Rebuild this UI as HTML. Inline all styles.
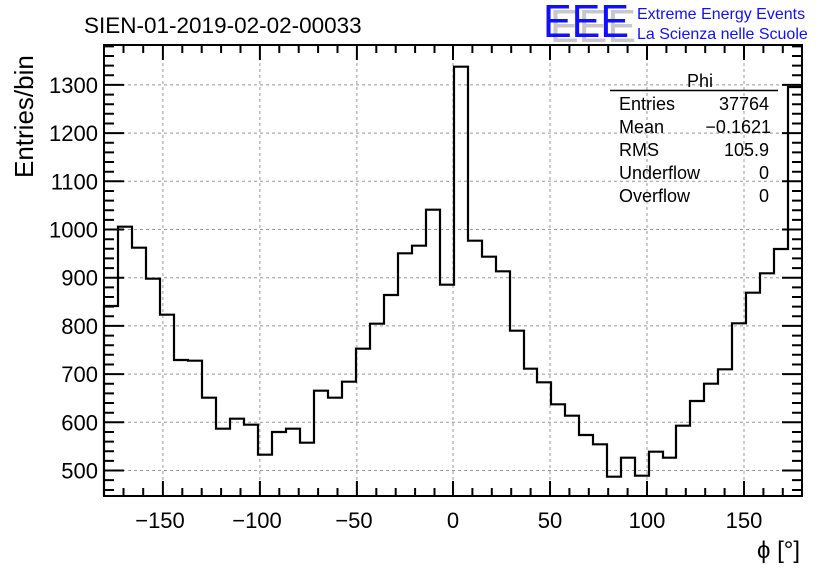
<!DOCTYPE html>
<html><head><meta charset="utf-8"><style>
html,body{margin:0;padding:0;background:#fff;}
svg{display:block;font-family:"Liberation Sans",sans-serif;}
</style></head><body>
<svg width="836" height="572" viewBox="0 0 836 572" xmlns="http://www.w3.org/2000/svg">
<rect width="836" height="572" fill="#fff"/>
<g id="grid" stroke="#999" stroke-width="1" stroke-dasharray="3,3" fill="none">
<path d="M104 470.5H802M104 422.3H802M104 374.1H802M104 325.9H802M104 277.7H802M104 229.5H802M104 181.3H802M104 133.1H802M104 84.9H802"/>
<path d="M162.9 45V496M259.9 45V496M356.9 45V496M453 45V496M550 45V496M647 45V496M744 45V496"/>
</g>
<path id="hist" fill="none" stroke="#000" stroke-width="2.2" d="M104 496V306H118V226.7H132V247.7H146V278.7H160V314.7H174V360H188V360.7H202V397.7H216V428.7H230V418.7H244V424.7H258V454.7H272V432H286V428.7H300V442.7H314V390.7H328V397.7H342V381.7H356V348.7H370V323.7H384V295H398V253.3H412V245.7H426V209.7H440V284.7H454V66.7H468V240.7H482V256.7H496V271.3H510V330.7H524V368.7H537V382.3H551V404.3H565V415.7H579V435H593V444.3H607V476.7H621V457.7H635V475.7H649V451.7H663V457.7H676V425.7H690V401H704V383.7H718V369.3H732V323.3H746V292.7H760V273.3H774V249H788V87H802"/>
<g stroke="#000" stroke-width="2" fill="none">
<rect x="104" y="45" width="698" height="451"/>
<path id="yt" d="
M104 470.5h20M104 422.3h20M104 374.1h20M104 325.9h20M104 277.7h20M104 229.5h20M104 181.3h20M104 133.1h20M104 84.9h20
M802 470.5h-20M802 422.3h-20M802 374.1h-20M802 325.9h-20M802 277.7h-20M802 229.5h-20M802 181.3h-20M802 133.1h-20M802 84.9h-20"/>
<path d="M104 490.0h10M104 480.1h10M104 460.9h10M104 451.2h10M104 441.6h10M104 432.0h10M104 412.7h10M104 403.0h10M104 393.4h10M104 383.8h10M104 364.5h10M104 354.8h10M104 345.2h10M104 335.6h10M104 316.3h10M104 306.6h10M104 297.0h10M104 287.4h10M104 268.1h10M104 258.4h10M104 248.8h10M104 239.2h10M104 219.9h10M104 210.2h10M104 200.6h10M104 191.0h10M104 171.7h10M104 162.0h10M104 152.4h10M104 142.8h10M104 123.5h10M104 113.8h10M104 104.2h10M104 94.6h10M104 75.3h10M104 65.6h10M104 56.0h10M104 46.4h10
M802 490.0h-10M802 480.1h-10M802 460.9h-10M802 451.2h-10M802 441.6h-10M802 432.0h-10M802 412.7h-10M802 403.0h-10M802 393.4h-10M802 383.8h-10M802 364.5h-10M802 354.8h-10M802 345.2h-10M802 335.6h-10M802 316.3h-10M802 306.6h-10M802 297.0h-10M802 287.4h-10M802 268.1h-10M802 258.4h-10M802 248.8h-10M802 239.2h-10M802 219.9h-10M802 210.2h-10M802 200.6h-10M802 191.0h-10M802 171.7h-10M802 162.0h-10M802 152.4h-10M802 142.8h-10M802 123.5h-10M802 113.8h-10M802 104.2h-10M802 94.6h-10M802 75.3h-10M802 65.6h-10M802 56.0h-10M802 46.4h-10"/>
<path d="M162.9 496v-15M259.9 496v-15M356.9 496v-15M453 496v-15M550 496v-15M647 496v-15M744 496v-15
M162.9 45v15M259.9 45v15M356.9 45v15M453 45v15M550 45v15M647 45v15M744 45v15"/>
<path d="M123.5 496v-8M143.2 496v-8M182.3 496v-8M201.7 496v-8M221.1 496v-8M240.5 496v-8M279.3 496v-8M298.7 496v-8M318.1 496v-8M337.5 496v-8M376.3 496v-8M395.7 496v-8M415.1 496v-8M434.5 496v-8M472.4 496v-8M491.8 496v-8M511.2 496v-8M530.6 496v-8M569.4 496v-8M588.8 496v-8M608.2 496v-8M627.6 496v-8M666.4 496v-8M685.8 496v-8M705.2 496v-8M724.6 496v-8M763.4 496v-8M782.8 496v-8
M123.5 45v8M143.2 45v8M182.3 45v8M201.7 45v8M221.1 45v8M240.5 45v8M279.3 45v8M298.7 45v8M318.1 45v8M337.5 45v8M376.3 45v8M395.7 45v8M415.1 45v8M434.5 45v8M472.4 45v8M491.8 45v8M511.2 45v8M530.6 45v8M569.4 45v8M588.8 45v8M608.2 45v8M627.6 45v8M666.4 45v8M685.8 45v8M705.2 45v8M724.6 45v8M763.4 45v8M782.8 45v8"/>
</g>
<g font-size="22" fill="#000" text-anchor="end">
<text x="98" y="478.5">500</text>
<text x="98" y="430.3">600</text>
<text x="98" y="382.1">700</text>
<text x="98" y="333.9">800</text>
<text x="98" y="285.7">900</text>
<text x="98" y="237.5">1000</text>
<text x="98" y="189.3">1100</text>
<text x="98" y="141.1">1200</text>
<text x="98" y="92.9">1300</text>
</g>
<g font-size="22" fill="#000" text-anchor="middle">
<text x="160" y="528">−150</text>
<text x="257" y="528">−100</text>
<text x="354" y="528">−50</text>
<text x="453" y="528">0</text>
<text x="550" y="528">50</text>
<text x="647" y="528">100</text>
<text x="744" y="528">150</text>
</g>
<text x="800" y="558" font-size="24" text-anchor="end">ϕ [°]</text>
<text transform="translate(33,178) rotate(-90)" font-size="26">Entries/bin</text>
<text x="84" y="33" font-size="22.5">SIEN-01-2019-02-02-00033</text>
<g font-size="46" font-weight="normal">
<text x="550" y="42" fill="#c8c8c8" textLength="86" lengthAdjust="spacingAndGlyphs">EEE</text>
<text x="543" y="37" fill="#1010ff" textLength="86" lengthAdjust="spacingAndGlyphs">EEE</text>
</g>
<g font-size="16" fill="#1010ff">
<text x="637" y="19">Extreme Energy Events</text>
<text x="637" y="39">La Scienza nelle Scuole</text>
</g>
<line x1="610" y1="90.5" x2="778" y2="90.5" stroke="#000" stroke-width="1.5"/>
<g font-size="18" fill="#000">
<text x="700" y="87" text-anchor="middle">Phi</text>
<text x="619" y="110">Entries</text>
<text x="619" y="133">Mean</text>
<text x="619" y="156">RMS</text>
<text x="619" y="179">Underflow</text>
<text x="619" y="202">Overflow</text>
<g text-anchor="end">
<text x="769" y="110">37764</text>
<text x="771" y="133">−0.1621</text>
<text x="769" y="156">105.9</text>
<text x="769" y="179">0</text>
<text x="769" y="202">0</text>
</g>
</g>
</svg>
</body></html>
